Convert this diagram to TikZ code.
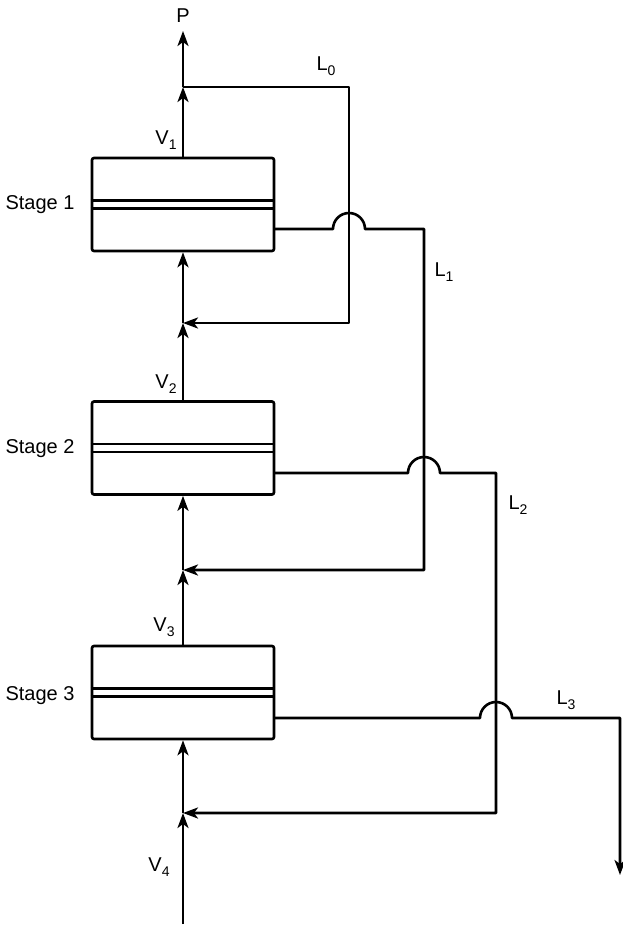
\documentclass[tikz,border=0pt]{standalone}
\usepackage{fontspec}
\setmainfont{Liberation Sans}
\usetikzlibrary{arrows.meta,calc}
\newcommand{\lbl}[2]{#1{\fontsize{14}{14}\selectfont\raisebox{-4.5pt}{#2}}}
\begin{document}
\begin{tikzpicture}[x=1pt,y=-1pt,
  flow/.style={line width=2.6pt,line join=round},
  arr/.style={flow,-{Stealth[length=15pt,width=11pt,inset=4pt]}},
  stagebox/.style={draw,line width=2.6pt,rounded corners=2pt,minimum width=182pt,minimum height=93pt,inner sep=0pt},
  txt/.style={font=\fontsize{20}{20}\selectfont,inner sep=0pt},
  stagelbl/.style={txt,anchor=east}]
\useasboundingbox (0,0) rectangle (622,926);
% stages
\node[stagebox] (s1) at (183,204.5) {};
\node[stagebox] (s2) at (183,448) {};
\node[stagebox] (s3) at (183,692.5) {};
\foreach \s in {s1,s2,s3}{
  \draw[flow] ($(\s.west)+(0,-4)$) -- ($(\s.east)+(0,-4)$);
  \draw[flow] ($(\s.west)+(0,4)$) -- ($(\s.east)+(0,4)$);
}
\node[stagelbl] (t1) at ($(s1.west)+(-16,0)$) {Stage 1};
\node[stagelbl] (t2) at ($(s2.west)+(-16,1)$) {Stage 2};
\node[stagelbl] (t3) at ($(s3.west)+(-16,3)$) {Stage 3};
% coordinates
\coordinate (P) at (183,31);
\coordinate (j0) at (183,87);
\coordinate (a0) at (349,87);
\coordinate (b0) at (349,323);
\coordinate (j1) at (183,323);
\coordinate (o1) at (274,229);
\coordinate (a1) at (424,229);
\coordinate (b1) at (424,570);
\coordinate (j2) at (183,570);
\coordinate (o2) at (274,473);
\coordinate (a2) at (496,473);
\coordinate (b2) at (496,813);
\coordinate (j3) at (183,813);
\coordinate (o3) at (274,718);
\coordinate (a3) at (620,718);
\coordinate (e3) at (620,875);
\coordinate (in) at (183,924);
% vapour line
\draw[arr] (s1.north) -- (j0);
\draw[arr] (j0) -- (P);
\draw[arr] (s2.north) -- (j1);
\draw[arr] (j1) -- (s1.south);
\draw[arr] (s3.north) -- (j2);
\draw[arr] (j2) -- (s2.south);
\draw[arr] (in) -- (j3);
\draw[arr] (j3) -- (s3.south);
% liquid lines
\draw[arr] (j0) -- (a0) -- (b0) -- (j1);
\draw[arr] (o1) -- (333,229) arc[start angle=180,end angle=0,radius=16pt] -- (a1) -- (b1) -- (j2);
\draw[arr] (o2) -- (408,473) arc[start angle=180,end angle=0,radius=16pt] -- (a2) -- (b2) -- (j3);
\draw[arr] (o3) -- (480,718) arc[start angle=180,end angle=0,radius=16pt] -- (a3) -- (e3);
% labels
\node[txt] (lP) at (183,16) {P};
\node[txt] (lL0) at (326,66) {\lbl{L}{0}};
\node[txt] (lL1) at (444,272) {\lbl{L}{1}};
\node[txt] (lL2) at (518,505) {\lbl{L}{2}};
\node[txt] (lL3) at (566,700) {\lbl{L}{3}};
\node[txt] (lV1) at (166,140) {\lbl{V}{1}};
\node[txt] (lV2) at (166,384) {\lbl{V}{2}};
\node[txt] (lV3) at (164,627) {\lbl{V}{3}};
\node[txt] (lV4) at (159,867) {\lbl{V}{4}};
\end{tikzpicture}
\end{document}
